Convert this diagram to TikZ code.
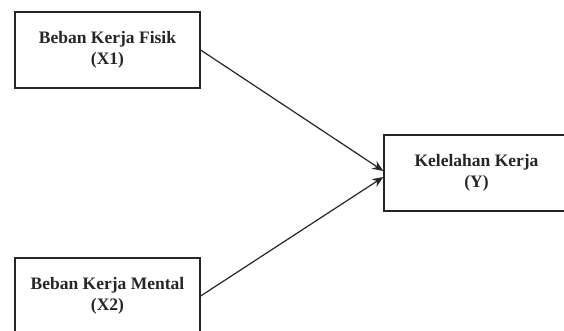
\documentclass[tikz,border=0pt]{standalone}
\usepackage{fontspec}
\setmainfont{Liberation Serif}
\usetikzlibrary{arrows.meta}
\begin{document}
\begin{tikzpicture}[x=1pt,y=-1pt,
  varbox/.style={draw=black!85, line width=1.3pt, minimum width=185pt, minimum height=76pt,
    inner sep=0pt, align=center, font=\bfseries\fontsize{17.5}{21}\selectfont, text=black!85},
  conn/.style={draw=black!85, line width=1.2pt, -{Stealth[length=11pt,width=9pt]}}]
\useasboundingbox (0,0) rectangle (564,331);
\clip (0,0) rectangle (564,331);
\fill[white] (0,0) rectangle (564,331);
\node[varbox] (x1) at (107.5,50) {Beban Kerja Fisik\\(X1)};
\node[varbox] (x2) at (107.5,296) {Beban Kerja Mental\\(X2)};
\node[varbox] (y) at (476.5,173) {Kelelahan Kerja\\(Y)};
\draw[conn] (x1.east) -- ([yshift=2pt]y.west);
\draw[conn] (x2.east) -- ([yshift=-4pt]y.west);
\end{tikzpicture}
\end{document}
